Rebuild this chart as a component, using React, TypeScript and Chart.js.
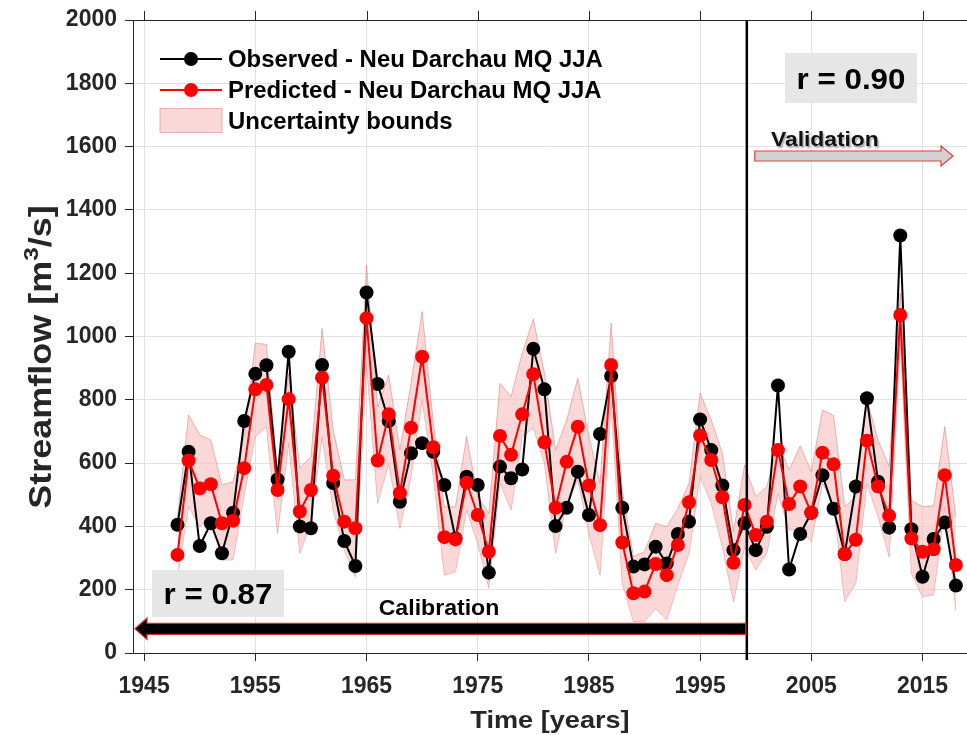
import React, { useEffect, useRef } from 'react';
import { Chart, registerables } from 'chart.js';
Chart.register(...registerables);

const FONT = '"Liberation Sans", Arial, Helvetica, sans-serif';

const years = [
  1948, 1949, 1950, 1951, 1952, 1953, 1954, 1955, 1956, 1957,
  1958, 1959, 1960, 1961, 1962, 1963, 1964, 1965, 1966, 1967,
  1968, 1969, 1970, 1971, 1972, 1973, 1974, 1975, 1976, 1977,
  1978, 1979, 1980, 1981, 1982, 1983, 1984, 1985, 1986, 1987,
  1988, 1989, 1990, 1991, 1992, 1993, 1994, 1995, 1996, 1997,
  1998, 1999, 2000, 2001, 2002, 2003, 2004, 2005, 2006, 2007,
  2008, 2009, 2010, 2011, 2012, 2013, 2014, 2015, 2016, 2017,
  2018,
];

const observed = [
  405, 636, 338, 410, 315, 443, 733, 882, 909, 548,
  952, 400, 394, 910, 537, 354, 275, 1139, 850, 733,
  478, 631, 663, 636, 531, 362, 557, 531, 254, 589,
  552, 580, 961, 833, 401, 459, 573, 436, 692, 875,
  459, 273, 280, 336, 283, 376, 415, 738, 641, 529,
  325, 410, 325, 399, 845, 264, 376, 443, 562, 456,
  313, 526, 805, 541, 396, 1319, 391, 241, 360, 412,
  213,
];

const predicted = [
  310, 608, 520, 533, 410, 418, 584, 833, 847, 515,
  802, 447, 515, 870, 560, 415, 394, 1058, 608, 754,
  505, 712, 936, 650, 366, 359, 538, 436, 320, 686,
  626, 754, 881, 666, 459, 604, 715, 529, 404, 910,
  349, 189, 194, 281, 246, 341, 476, 687, 610, 492,
  285, 468, 373, 415, 641, 471, 526, 443, 633, 596,
  313, 358, 671, 526, 434, 1068, 362, 320, 328, 562,
  278,
];

const upperBound = [
  430, 752, 689, 673, 531, 541, 684, 979, 975, 568,
  884, 584, 620, 1025, 705, 547, 547, 1226, 778, 878,
  641, 852, 1079, 730, 462, 462, 684, 494, 442, 852,
  810, 947, 1055, 884, 641, 736, 868, 684, 536, 1042,
  515, 304, 320, 410, 399, 457, 536, 821, 736, 631,
  383, 594, 494, 526, 663, 578, 654, 573, 768, 750,
  462, 494, 800, 673, 589, 1137, 483, 462, 465, 715,
  431,
];

const lowerBound = [
  240, 462, 399, 430, 294, 294, 500, 684, 715, 378,
  663, 315, 410, 684, 452, 325, 241, 915, 473, 600,
  394, 557, 800, 560, 246, 257, 452, 347, 205, 537,
  452, 684, 712, 600, 315, 473, 547, 378, 246, 789,
  220, 99, 99, 141, 104, 215, 315, 557, 473, 336,
  162, 336, 262, 315, 505, 389, 389, 352, 536, 473,
  162, 220, 536, 431, 304, 989, 252, 178, 183, 462,
  136,
];

const xTickValues = [1945, 1955, 1965, 1975, 1985, 1995, 2005, 2015];
const splitYear = 1999.2;

const legendLabels = [
  'Observed - Neu Darchau MQ JJA',
  'Predicted - Neu Darchau MQ JJA',
  'Uncertainty bounds',
];
const rCalibration = 'r = 0.87';
const rValidation = 'r = 0.90';

const INK = '#262626';
const BAND_FILL = 'rgba(248, 192, 192, 0.62)';
const BAND_EDGE = 'rgba(222, 120, 120, 0.55)';

function stretchedText(ctx: CanvasRenderingContext2D, text: string, x: number, y: number, font: string, sx: number, align: CanvasTextAlign = 'left') {
  ctx.save();
  ctx.font = font;
  ctx.textBaseline = 'alphabetic';
  const w = ctx.measureText(text).width * sx;
  let left = x;
  if (align === 'center') left = x - w / 2;
  if (align === 'right') left = x - w;
  ctx.translate(left, y);
  ctx.scale(sx, 1);
  ctx.textAlign = 'left';
  ctx.fillText(text, 0, 0);
  ctx.restore();
}

const decorPlugin = {
  id: 'decor',
  afterDraw(chart: any) {
    const ctx: CanvasRenderingContext2D = chart.ctx;
    const area = chart.chartArea;
    const xs = chart.scales.x;

    ctx.save();
    // top frame and top ticks
    ctx.strokeStyle = INK;
    ctx.lineWidth = 1;
    ctx.beginPath();
    ctx.moveTo(area.left, area.top + 0.5);
    ctx.lineTo(area.right, area.top + 0.5);
    xTickValues.forEach((v) => {
      const px = Math.round(xs.getPixelForValue(v)) + 0.5;
      ctx.moveTo(px, area.top);
      ctx.lineTo(px, area.top - 9);
    });
    ctx.stroke();

    // split line between calibration and validation
    const sxp = xs.getPixelForValue(splitYear);
    ctx.strokeStyle = '#000';
    ctx.lineWidth = 2.5;
    ctx.beginPath();
    ctx.moveTo(sxp, area.top);
    ctx.lineTo(sxp, area.bottom + 7);
    ctx.stroke();

    // calibration arrow (pointing left)
    const calLeft = area.left + 2;
    const calRight = sxp - 1;
    ctx.beginPath();
    ctx.moveTo(calLeft, 628.8);
    ctx.lineTo(calLeft + 12, 618);
    ctx.lineTo(calLeft + 12, 623.3);
    ctx.lineTo(calRight, 623.3);
    ctx.lineTo(calRight, 634.3);
    ctx.lineTo(calLeft + 12, 634.3);
    ctx.lineTo(calLeft + 12, 639.5);
    ctx.closePath();
    ctx.fillStyle = '#000';
    ctx.fill();
    ctx.strokeStyle = '#e32222';
    ctx.lineWidth = 1.2;
    ctx.stroke();

    // validation arrow (pointing right)
    const vLeft = sxp + 8;
    const vTip = 953;
    ctx.beginPath();
    ctx.moveTo(vLeft, 151);
    ctx.lineTo(vTip - 12, 151);
    ctx.lineTo(vTip - 12, 146);
    ctx.lineTo(vTip, 156);
    ctx.lineTo(vTip - 12, 166);
    ctx.lineTo(vTip - 12, 161);
    ctx.lineTo(vLeft, 161);
    ctx.closePath();
    ctx.fillStyle = '#d2d2d2';
    ctx.fill();
    ctx.strokeStyle = '#e83a3a';
    ctx.lineWidth = 1.2;
    ctx.stroke();

    ctx.fillStyle = '#000';
    stretchedText(ctx, 'Calibration', 439, 615, `bold 22px ${FONT}`, 1.05, 'center');
    ctx.save();
    ctx.shadowColor = 'rgba(0,0,0,0.35)';
    ctx.shadowOffsetX = 1.5;
    ctx.shadowOffsetY = 1.5;
    ctx.shadowBlur = 2;
    ctx.fillStyle = '#111';
    stretchedText(ctx, 'Validation', 771, 146, `bold 20px ${FONT}`, 1.14, 'left');
    ctx.restore();

    // correlation boxes
    ctx.fillStyle = '#e6e6e6';
    ctx.fillRect(785, 53, 132, 50);
    ctx.fillRect(152, 570, 132, 47);
    ctx.fillStyle = '#000';
    stretchedText(ctx, rValidation, 851, 89, `bold 29px ${FONT}`, 1.08, 'center');
    stretchedText(ctx, rCalibration, 218, 604, `bold 29px ${FONT}`, 1.08, 'center');

    // legend
    const rows = [59, 90, 121];
    ctx.lineWidth = 2;
    ctx.strokeStyle = '#000';
    ctx.beginPath();
    ctx.moveTo(160, rows[0]);
    ctx.lineTo(222, rows[0]);
    ctx.stroke();
    ctx.fillStyle = '#000';
    ctx.beginPath();
    ctx.arc(191, rows[0], 7, 0, Math.PI * 2);
    ctx.fill();
    ctx.strokeStyle = '#ff0000';
    ctx.beginPath();
    ctx.moveTo(160, rows[1]);
    ctx.lineTo(222, rows[1]);
    ctx.stroke();
    ctx.fillStyle = '#ff0000';
    ctx.beginPath();
    ctx.arc(191, rows[1], 7, 0, Math.PI * 2);
    ctx.fill();
    ctx.fillStyle = BAND_FILL;
    ctx.fillRect(160, 108.5, 62, 24);
    ctx.strokeStyle = BAND_EDGE;
    ctx.lineWidth = 1;
    ctx.strokeRect(160, 108.5, 62, 24);
    ctx.fillStyle = '#000';
    legendLabels.forEach((t, i) => {
      stretchedText(ctx, t, 228, rows[i] + 8, `bold 23px ${FONT}`, 1.04, 'left');
    });

    // axis titles
    ctx.fillStyle = INK;
    stretchedText(ctx, 'Time [years]', 550, 728, `bold 24px ${FONT}`, 1.13, 'center');

    ctx.save();
    ctx.translate(51, 357);
    ctx.rotate(-Math.PI / 2);
    const f1 = `bold 31px ${FONT}`;
    const f2 = `bold 21px ${FONT}`;
    const sx = 1.16;
    ctx.font = f1;
    const p1 = 'Streamflow [m';
    const p3 = '/s]';
    const w1 = ctx.measureText(p1).width * sx;
    const w3 = ctx.measureText(p3).width * sx;
    ctx.font = f2;
    const w2 = ctx.measureText('3').width * sx;
    const total = w1 + w2 + w3;
    let cx = -total / 2;
    stretchedText(ctx, p1, cx, 0, f1, sx, 'left');
    cx += w1;
    stretchedText(ctx, '3', cx, -13, f2, sx, 'left');
    cx += w2;
    stretchedText(ctx, p3, cx, 0, f1, sx, 'left');
    ctx.restore();

    ctx.restore();
  },
};

export default function App() {
  const ref = useRef<HTMLCanvasElement | null>(null);

  useEffect(() => {
    if (!ref.current) return;
    const pts = (arr: number[]) => years.map((yr, i) => ({ x: yr, y: arr[i] }));
    const tickFont = { family: FONT, size: 23, weight: 'bold' as const };
    const chart = new Chart(ref.current, {
      type: 'line',
      data: {
        datasets: [
          { label: 'Predicted', data: pts(predicted), borderColor: '#ff0000', backgroundColor: '#ff0000', pointBackgroundColor: '#ff0000', pointBorderWidth: 0, pointRadius: 7, borderWidth: 2, fill: false, tension: 0, order: 0 },
          { label: 'Observed', data: pts(observed), borderColor: '#000000', backgroundColor: '#000000', pointBackgroundColor: '#000000', pointBorderWidth: 0, pointRadius: 7, borderWidth: 2, fill: false, tension: 0, order: 1 },
          { label: 'Upper', data: pts(upperBound), borderColor: BAND_EDGE, backgroundColor: BAND_FILL, borderWidth: 1, pointRadius: 0, fill: '+1', tension: 0, order: 2 },
          { label: 'Lower', data: pts(lowerBound), borderColor: BAND_EDGE, backgroundColor: BAND_FILL, borderWidth: 1, pointRadius: 0, fill: false, tension: 0, order: 3 },
        ],
      },
      options: {
        responsive: false,
        animation: false,
        layout: { autoPadding: false, padding: { top: 20, right: 0, left: 0, bottom: 0 } },
        plugins: { legend: { display: false }, tooltip: { enabled: false } },
        scales: {
          x: {
            type: 'linear',
            min: 1944,
            max: 2019,
            afterBuildTicks: (s: any) => {
              s.ticks = xTickValues.map((v) => ({ value: v }));
            },
            afterFit: (s: any) => {
              s.height = 82;
              s.paddingLeft = 0;
              s.paddingRight = 0;
            },
            grid: { color: '#e2e2e2', tickColor: INK, tickLength: 8, lineWidth: 1 },
            border: { color: INK, width: 1 },
            ticks: { font: tickFont, color: INK, padding: 12, maxRotation: 0, autoSkip: false, callback: (v: any) => String(v) },
          },
          y: {
            min: 0,
            max: 2000,
            afterFit: (s: any) => {
              s.width = 133;
              s.paddingTop = 0;
              s.paddingBottom = 0;
            },
            grid: { color: '#e2e2e2', tickColor: INK, tickLength: 8, lineWidth: 1 },
            border: { color: INK, width: 1 },
            ticks: { stepSize: 200, font: tickFont, color: INK, padding: 8, callback: (v: any) => String(v) },
          },
        },
      },
      plugins: [decorPlugin],
    } as any);
    return () => chart.destroy();
  }, []);

  return (
    <div style={{ position: 'absolute', left: 0, top: 0, width: 967, height: 735, background: '#fff' }}>
      <canvas ref={ref} width={967} height={735} style={{ width: 967, height: 735, display: 'block' }} />
    </div>
  );
}
